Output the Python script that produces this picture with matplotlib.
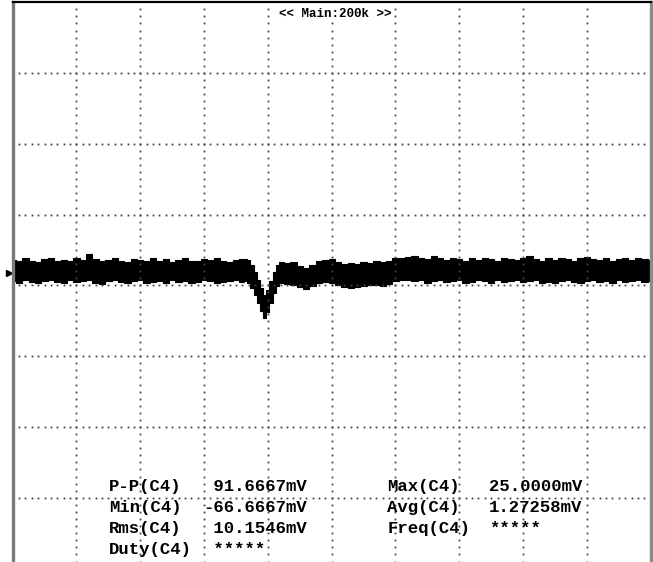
import matplotlib
matplotlib.use("Agg")
import matplotlib.pyplot as plt
import numpy as np

### Data (time in divisions, voltage envelope in mV, 100 mV/div) ###
volts_per_div = 100.0
ground_div = 0.2   # channel position offset

t_div = [0.0, 0.1, 0.2, 0.3, 0.4, 0.5, 0.6, 0.7, 0.8, 0.9,
         1.0, 1.1, 1.2, 1.3, 1.4, 1.5, 1.6, 1.7, 1.8, 1.9,
         2.0, 2.1, 2.2, 2.3, 2.4, 2.5, 2.6, 2.7, 2.8, 2.9,
         3.0, 3.1, 3.2, 3.3, 3.4, 3.5, 3.6,
         3.65, 3.7, 3.75, 3.8, 3.85, 3.9, 3.95, 4.0, 4.05, 4.1, 4.15, 4.2,
         4.3, 4.4, 4.5, 4.6, 4.7, 4.8, 4.9, 5.0,
         5.1, 5.2, 5.3, 5.4, 5.5, 5.6, 5.7, 5.8, 5.9, 6.0,
         6.1, 6.2, 6.3, 6.4, 6.5, 6.6, 6.7, 6.8, 6.9, 7.0,
         7.1, 7.2, 7.3, 7.4, 7.5, 7.6, 7.7, 7.8, 7.9, 8.0,
         8.1, 8.2, 8.3, 8.4, 8.5, 8.6, 8.7, 8.8, 8.9, 9.0,
         9.1, 9.2, 9.3, 9.4, 9.5, 9.6, 9.7, 9.8, 9.9, 10.0]

env_hi = [16, 14, 18, 15, 13, 17, 19, 14, 16, 15,
          18, 16, 25, 17, 14, 16, 19, 15, 13, 17,
          16, 14, 18, 15, 17, 13, 16, 19, 15, 14,
          17, 16, 18, 15, 13, 16, 17,
          17, 15.5, 8.5, -1.4, -12.7, -24, -34, -27, -14, -1.4, 8.5, 12.7,
          11, 12.7, 7, 4, 8.5, 14, 15.5, 17,
          12.7, 10, 11, 10, 12.7, 11, 14, 12.7, 14, 18,
          18, 20, 22, 19, 17, 21, 18, 16, 19, 17,
          15, 18, 16, 19, 17, 15, 18, 17, 16, 19,
          22, 17, 15, 18, 16, 19, 17, 15, 18, 20,
          17, 16, 19, 15, 17, 18, 16, 19, 17, 16]

env_lo = [-14, -16, -13, -15, -17, -14, -12, -15, -16, -13,
          -15, -14, -12, -16, -18, -14, -13, -15, -16, -14,
          -13, -17, -15, -14, -16, -13, -15, -14, -17, -15,
          -13, -14, -16, -15, -14, -13, -15,
          -14, -17, -24, -34, -45, -56.5, -66.7, -58, -45, -31, -21, -17,
          -18, -20, -22.6, -25, -21, -17, -15.5, -17,
          -20, -22.6, -24, -22.6, -21, -20, -20, -21, -18, -14,
          -13, -12, -14, -13, -16, -14, -13, -15, -14, -12,
          -16, -15, -13, -14, -16, -13, -15, -14, -12, -15,
          -14, -13, -16, -15, -17, -14, -13, -15, -16, -14,
          -13, -15, -14, -16, -13, -15, -14, -13, -15, -14]

header = "<< Main:200k >>"
meas_left = ["P-P(C4)", "Min(C4)", "Rms(C4)", "Duty(C4)"]
vals_left = [" 91.6667mV", "-66.6667mV", " 10.1546mV", " *****"]
meas_right = ["Max(C4)", "Avg(C4)", "Freq(C4)"]
vals_right = ["25.0000mV", "1.27258mV", "*****"]

### Figure ###
W, H = 653, 562
fig = plt.figure(figsize=(W / 100, H / 100), dpi=100)
top_px, left_px, right_px = 2.2, 12.7, 650.7
div_h = 70.8
ax = fig.add_axes([left_px / W, (H - top_px - 8 * div_h) / H,
                   (right_px - left_px) / W, 8 * div_h / H])
ax.set_xlim(0, 10)
ax.set_ylim(-4, 4)
ax.set_xticks([])
ax.set_yticks([])
ax.spines["left"].set_color("#7a7a7a")
ax.spines["left"].set_linewidth(2.4)
ax.spines["right"].set_color("#8a8a8a")
ax.spines["right"].set_linewidth(2.4)
ax.spines["top"].set_color("black")
ax.spines["top"].set_linewidth(1.6)
ax.spines["bottom"].set_visible(False)

# dotted graticule
dot_kw = dict(marker="s", markersize=1.3, linestyle="none", color="#444444", mec="none")
sub = np.arange(0.1, 10.0, 0.1)
for gy in range(-3, 4):
    ax.plot(sub, np.full_like(sub, gy), **dot_kw)
suby = np.arange(-3.9, 4.0, 0.1)
for gx in range(1, 10):
    ax.plot(np.full_like(suby, gx), suby, **dot_kw)

# trace
hi = ground_div + np.array(env_hi) / volts_per_div
lo = ground_div + np.array(env_lo) / volts_per_div
ax.fill_between(t_div, lo, hi, step="mid", color="black", linewidth=0.8, edgecolor="black")

# ground marker
ax.plot([-0.06], [ground_div - 0.03], marker=">", markersize=4, color="black", clip_on=False)

# header
ax.text(5.05, 3.83, header, ha="center", va="center", family="Liberation Mono",
        fontweight="bold", fontsize=9, color="black",
        bbox=dict(facecolor="white", edgecolor="none", pad=1))

# measurements
fs = 12.4
mono = dict(family="Liberation Mono", fontweight="bold", fontsize=fs, ha="left", va="center")
row_y = [-2.836, -3.133, -3.43, -3.726]
for lab, val, yy in zip(meas_left, vals_left, row_y):
    ax.text(1.51, yy, lab, **mono)
    ax.text(2.99, yy, val, **mono)
for lab, val, yy in zip(meas_right, vals_right, row_y):
    ax.text(5.87, yy, lab, **mono)
    ax.text(7.47, yy, val, **mono)

fig.savefig("out.png", dpi=100)
